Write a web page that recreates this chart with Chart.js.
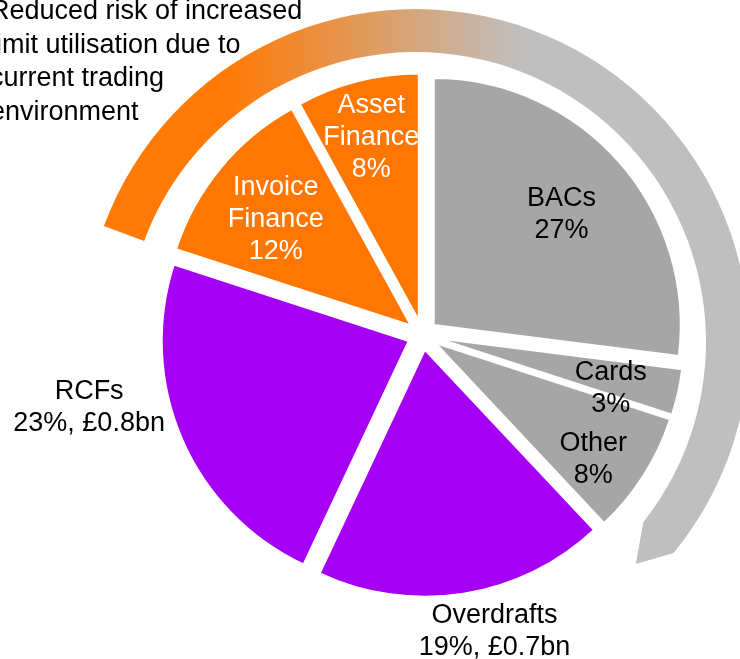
<!DOCTYPE html>
<html>
<head>
<meta charset="utf-8">
<script src="https://cdn.jsdelivr.net/npm/chart.js@4.4.0/dist/chart.umd.min.js"></script>
<style>
    body { margin: 0; background: #fff; overflow: hidden; }
    #grafico-container { position: relative; width: 740px; height: 659px; }
    #nota {
        position: absolute;
        left: -10px;
        top: -6px;
        font: 27px/33.7px 'Liberation Sans', Arial, sans-serif;
        color: #000;
        white-space: nowrap;
    }
</style>
</head>
<body>
<div id="grafico-container">
    <canvas id="grafico-pizza" width="740" height="659"></canvas>
    <div id="nota">Reduced risk of increased<br>limit utilisation due to<br>current trading<br>environment</div>
</div>
<script>
var categorias = ['BACs', 'Cards', 'Other', 'Overdrafts', 'RCFs', 'Invoice Finance', 'Asset Finance'];
var percentuais = [27, 3, 8, 19, 23, 12, 8];
var valoresBn = [null, null, null, 0.7, 0.8, null, null];

var cores = ['#a6a6a6', '#a6a6a6', '#a6a6a6', '#a500f5', '#a500f5', '#ff7700', '#ff7700'];
var coresTexto = ['#000', '#000', '#000', '#000', '#000', '#fff', '#fff'];
// label position: fraction of radius along the slice middle, plus a small turn in degrees
var raioRotulo = [0.69, 0.73, 0.79, 1.165, 1.32, 0.70, 0.775];
var giroRotulo = [0, 3, 3.5, -5, 12, -1, 0];

var explosao = 15;
var fonte = "27px 'Liberation Sans', Arial, sans-serif";
var alturaLinha = 32;
var alturaMaiuscula = 19;

// outer arrow ring, angles clockwise from 12 o'clock
var anel = {
    dx: -6.5, dy: 7,
    externo: 333, interno: 290,
    inicio: -69.6, fimExterno: 129.3, fimInterno: 128.4,
    pontaAngulo: 135.3, pontaRaio: 312.5
};

function rad(graus) {
    return (graus - 90) * Math.PI / 180;
}

function linhasRotulo(i) {
    var linhas = categorias[i].split(' ');
    var texto = percentuais[i] + '%';
    if (valoresBn[i] !== null) {
        texto += ', £' + valoresBn[i].toFixed(1) + 'bn';
    }
    linhas.push(texto);
    return linhas;
}

var pluginAnel = {
    id: 'anel',
    beforeDatasetsDraw: function (chart) {
        var ctx = chart.ctx;
        var arco = chart.getDatasetMeta(0).data[0];
        var cx = arco.x + anel.dx;
        var cy = arco.y + anel.dy;
        var grad = ctx.createLinearGradient(230, 0, 520, 0);
        grad.addColorStop(0, '#ff7a06');
        grad.addColorStop(1, '#bfbfbf');

        var px = cx + Math.cos(rad(anel.pontaAngulo)) * anel.pontaRaio;
        var py = cy + Math.sin(rad(anel.pontaAngulo)) * anel.pontaRaio;
        var ix = cx + Math.cos(rad(anel.fimInterno)) * anel.interno;
        var iy = cy + Math.sin(rad(anel.fimInterno)) * anel.interno;

        ctx.save();
        ctx.beginPath();
        ctx.arc(cx, cy, anel.externo, rad(anel.inicio), rad(anel.fimExterno), false);
        ctx.lineTo(px, py);
        ctx.lineTo(ix, iy);
        ctx.arc(cx, cy, anel.interno, rad(anel.fimInterno), rad(anel.inicio), true);
        ctx.closePath();
        ctx.fillStyle = grad;
        ctx.fill();
        ctx.restore();
    }
};

var pluginExplosao = {
    id: 'explosao',
    beforeDatasetDraw: function (chart, args) {
        var ctx = chart.ctx;
        args.meta.data.forEach(function (arco) {
            var meio = (arco.startAngle + arco.endAngle) / 2;
            ctx.save();
            ctx.translate(Math.cos(meio) * explosao, Math.sin(meio) * explosao);
            arco.draw(ctx);
            ctx.restore();
        });
        return false;
    }
};

var pluginRotulos = {
    id: 'rotulos',
    afterDatasetsDraw: function (chart) {
        var ctx = chart.ctx;
        ctx.save();
        ctx.font = fonte;
        ctx.textAlign = 'center';
        ctx.textBaseline = 'alphabetic';
        chart.getDatasetMeta(0).data.forEach(function (arco, i) {
            var meio = (arco.startAngle + arco.endAngle) / 2;
            var cx = arco.x + Math.cos(meio) * explosao;
            var cy = arco.y + Math.sin(meio) * explosao;
            var ang = meio + giroRotulo[i] * Math.PI / 180;
            var r = arco.outerRadius * raioRotulo[i];
            var x = cx + Math.cos(ang) * r;
            var y = cy + Math.sin(ang) * r;
            var linhas = linhasRotulo(i);
            var primeira = y - ((linhas.length - 1) * alturaLinha + alturaMaiuscula) / 2 + alturaMaiuscula;
            ctx.fillStyle = coresTexto[i];
            for (var k = 0; k < linhas.length; k++) {
                ctx.fillText(linhas[k], x, primeira + k * alturaLinha);
            }
        });
        ctx.restore();
    }
};

var ctx = document.getElementById('grafico-pizza').getContext('2d');
var myChart = new Chart(ctx, {
    type: 'pie',
    data: {
        labels: categorias,
        datasets: [{
            data: percentuais,
            backgroundColor: cores,
            borderColor: '#ffffff',
            borderWidth: 2,
            hoverOffset: 0
        }]
    },
    options: {
        responsive: false,
        animation: false,
        radius: 247,
        layout: {
            padding: { left: 105, right: 0, top: 11, bottom: 0 }
        },
        plugins: {
            legend: { display: false },
            tooltip: { enabled: false }
        }
    },
    plugins: [pluginAnel, pluginExplosao, pluginRotulos]
});
</script>
</body>
</html>
